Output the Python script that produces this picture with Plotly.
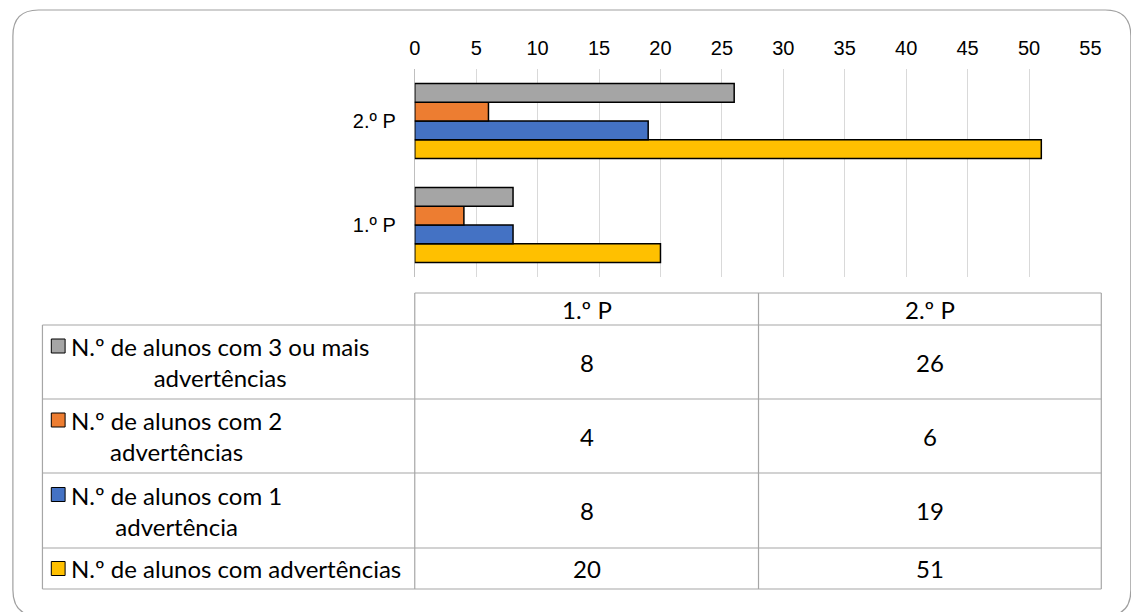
import plotly.graph_objects as go

# Periods (categories) and series values
periods = ["1.º P", "2.º P"]
series_names = [
    "N.º de alunos com advertências",
    "N.º de alunos com 1 advertência",
    "N.º de alunos com 2 advertências",
    "N.º de alunos com 3 ou mais advertências",
]
series_table_labels = [
    "N.º de alunos com advertências",
    "N.º de alunos com 1<br>advertência",
    "N.º de alunos com 2<br>advertências",
    "N.º de alunos com 3 ou mais<br>advertências",
]
total_vals = [20, 51]
one_vals = [8, 19]
two_vals = [4, 6]
three_plus_vals = [8, 26]
series_values = [total_vals, one_vals, two_vals, three_plus_vals]
series_colors = ["#FFC000", "#4472C4", "#ED7D31", "#A5A5A5"]
x_ticks = list(range(0, 56, 5))

W, H = 1131, 612


def px(x):
    return x / W


def py(y):
    return 1 - y / H


fig = go.Figure()
for name, vals, col in zip(series_names, series_values, series_colors):
    fig.add_trace(go.Bar(
        y=periods, x=vals, name=name, orientation="h",
        marker=dict(color=col, line=dict(color="#000000", width=1.5)),
        showlegend=False,
    ))

# plot area in pixels
PL, PR, PT, PB = 415, 1101, 69, 277

fig.update_layout(
    width=W, height=H,
    margin=dict(l=0, r=0, t=0, b=0),
    paper_bgcolor="white", plot_bgcolor="white",
    barmode="group", bargap=0.28, bargroupgap=0,
    xaxis=dict(
        domain=[px(PL), px(PR)], range=[0, 55], side="top",
        tickvals=x_ticks, showgrid=True, gridcolor="#D9D9D9", gridwidth=1,
        zeroline=True, zerolinecolor="#BFBFBF", zerolinewidth=1,
        showline=False, ticks="", ticklabelstandoff=9,
        tickfont=dict(family="Liberation Sans", size=20, color="#000000"),
    ),
    yaxis=dict(
        domain=[py(PB), py(PT)], range=[-0.5, 1.5], type="category",
        showgrid=False, zeroline=False, showline=False, ticks="",
        ticklabelstandoff=18,
        tickfont=dict(family="Liberation Sans", size=20, color="#000000"),
    ),
    font=dict(family="Liberation Sans"),
)

shapes = []
line_col = "#A6A6A6"

# outer rounded frame (runs past the right and bottom edges of the page)
L, R, T, B, r = 7, 1142, 10, 616, 26
path = (f"M {px(L + r)},{py(T)} L {px(R - r)},{py(T)} Q {px(R)},{py(T)} {px(R)},{py(T + r)} "
        f"L {px(R)},{py(B - r)} Q {px(R)},{py(B)} {px(R - r)},{py(B)} "
        f"L {px(L + r)},{py(B)} Q {px(L)},{py(B)} {px(L)},{py(B - r)} "
        f"L {px(L)},{py(T + r)} Q {px(L)},{py(T)} {px(L + r)},{py(T)} Z")
shapes.append(dict(type="path", xref="paper", yref="paper", path=path,
                   line=dict(color="#A0A0A0", width=1.2), layer="below"))

# data table grid
TL, TC1, TC2, TR = 37, 415, 764, 1112
row_y = [293, 325, 399, 473, 548, 589]


def hline(x0, x1, y):
    shapes.append(dict(type="line", xref="paper", yref="paper",
                       x0=px(x0), x1=px(x1), y0=py(y), y1=py(y),
                       line=dict(color=line_col, width=1.2)))


def vline(x, y0, y1):
    shapes.append(dict(type="line", xref="paper", yref="paper",
                       x0=px(x), x1=px(x), y0=py(y0), y1=py(y1),
                       line=dict(color=line_col, width=1.2)))


hline(TC1, TR, row_y[0])
for yy in row_y[1:]:
    hline(TL, TR, yy)
vline(TL, row_y[1], row_y[-1])
vline(TC1, row_y[0], row_y[-1])
vline(TC2, row_y[0], row_y[-1])
vline(TR, row_y[0], row_y[-1])

annotations = []
tfont = dict(family="Lato", size=24, color="#000000")

# header row
col_centers = [(TC1 + TC2) / 2, (TC2 + TR) / 2]
for p, cx in zip(periods, col_centers):
    annotations.append(dict(xref="paper", yref="paper", x=px(cx),
                            y=py((row_y[0] + row_y[1]) / 2), text=p, showarrow=False,
                            xanchor="center", yanchor="middle", font=tfont))

# table rows, top to bottom: 3+, 2, 1, total
for i, idx in enumerate([3, 2, 1, 0]):
    y0, y1 = row_y[i + 1], row_y[i + 2]
    cy = (y0 + y1) / 2
    two_line = "<br>" in series_table_labels[idx]
    ky = cy - 16 if two_line else cy
    # legend key square
    shapes.append(dict(type="rect", xref="paper", yref="paper",
                       x0=px(46), x1=px(60), y0=py(ky + 7), y1=py(ky - 7),
                       fillcolor=series_colors[idx], line=dict(color="#000000", width=1)))
    annotations.append(dict(xref="paper", yref="paper", x=px(64), y=py(cy),
                            text=series_table_labels[idx], showarrow=False,
                            xanchor="left", yanchor="middle", align="center",
                            font=tfont))
    for v, cx in zip(series_values[idx], col_centers):
        annotations.append(dict(xref="paper", yref="paper", x=px(cx), y=py(cy),
                                text=str(v), showarrow=False,
                                xanchor="center", yanchor="middle", font=tfont))

fig.update_layout(shapes=shapes, annotations=annotations)
fig.write_html("out.html")
